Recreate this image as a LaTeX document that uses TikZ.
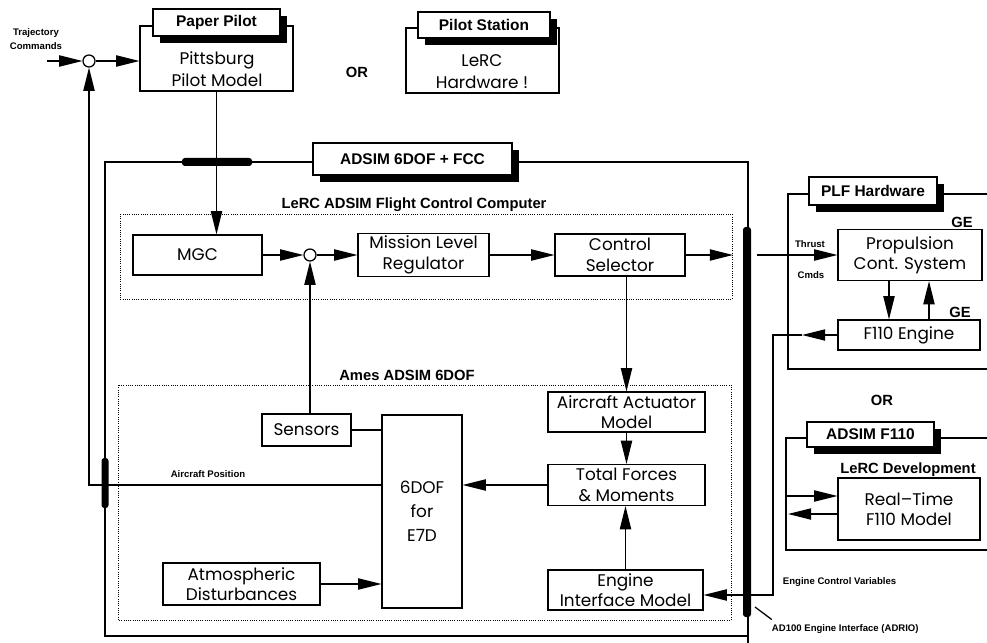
\documentclass[tikz,border=0pt]{standalone}
\usepackage{fontspec}
\setmainfont{Poppins}
\newfontfamily\etich{Liberation Sans}
\usetikzlibrary{arrows.meta,shadows}

\begin{document}
\begin{tikzpicture}[x=0.025cm, y=-0.025cm,
  misura/.style 2 args={minimum width=#1*0.025cm, minimum height=#2*0.025cm},
  blocco/.style={draw, line width=0.9pt, inner sep=0pt, align=center,
    font=\fontsize{12}{14.5}\selectfont},
  testo/.style={align=center, inner sep=0pt, font=\fontsize{12}{15.5}\selectfont},
  linguetta/.style={draw, fill=white, line width=0.9pt, inner sep=0pt,
    font=\etich\bfseries\fontsize{11}{13}\selectfont,
    drop shadow={shadow xshift=0.18cm, shadow yshift=-0.18cm, fill=black, opacity=1}},
  cornice/.style={line width=0.9pt},
  puntini/.style={densely dotted, line width=0.6pt},
  barra/.style={fill=black, inner sep=0pt, rounded corners=2pt},
  somma/.style={circle, draw, line width=0.9pt, inner sep=0pt, minimum size=0.3cm},
  filo/.style={line width=0.9pt},
  freccia/.style={filo, -{Triangle[length=16.5pt, width=8pt]}},
  titolo/.style={font=\etich\bfseries\fontsize{10.5}{12}\selectfont},
  piccolo/.style={align=center, font=\etich\bfseries\fontsize{6.8}{10.5}\selectfont}]

% Sfondo e margini
\path[fill=white] (0,0) rectangle (987,643);
\useasboundingbox (0,0) rectangle (987,643);

% Cornici
\draw[cornice] (105,162) rectangle (748,636);
\draw[cornice] (748,636) -- (748,643);
\draw[cornice] (987,194) -- (788,194) -- (788,369) -- (987,369);
\draw[cornice] (987,438) -- (786,438) -- (786,550) -- (987,550);
\draw[puntini] (120,214) rectangle (732,299);
\draw[puntini] (118,385) rectangle (731,620);

% Pilota
\node[blocco, misura={153}{65}] (paperBox) at (216.5,58.5) {};
\node[testo] (pitt) at (217,69) {Pittsburg\\Pilot Model};
\node[linguetta, misura={127}{27}] (paperTab) at (216.5,22.5) {Paper Pilot};

\node[titolo] (or1) at (357,72) {OR};

\node[blocco, misura={153}{65}] (stationBox) at (482.5,60.5) {};
\node[testo] (lerc) at (482,72) {LeRC\\Hardware !};
\node[linguetta, misura={132}{26}] (stationTab) at (484,25) {Pilot Station};

% Ingresso traiettoria
\node[somma] (sum1) at (89,61) {};
\node[piccolo] (traj) at (36,39) {Trajectory\\Commands};
\coordinate (trajIn) at (47,61);
\draw[freccia] (trajIn) -- (sum1.west);
\draw[freccia] (sum1.east) -- (sum1 -| paperBox.west);

% ADSIM 6DOF + FCC
\node[barra, misura={70}{8}] (busT) at (217,162) {};
\node[linguetta, misura={199}{32}] (adsimTab) at (412.5,159) {ADSIM 6DOF + FCC};
\node[titolo, anchor=base] (fccLbl) at (414,208) {LeRC ADSIM Flight Control Computer};
\node[titolo, anchor=base] (amesLbl) at (407,380) {Ames ADSIM 6DOF};

% Barre di interfaccia
\node[barra, misura={8}{390}] (busR) at (747,422) {};
\node[barra, misura={7}{50}] (busL) at (105,483) {};

% Flight Control Computer
\node[blocco, misura={129}{40}] (mgc) at (197.5,255) {MGC};
\node[somma] (sum2) at (310,255) {};
\node[blocco, misura={131}{43}] (msl) at (423.5,255) {Mission Level\\Regulator};
\node[blocco, misura={130}{42}] (csel) at (620,255) {Control\\Selector};
\coordinate (csOut) at (733,255);

\draw[freccia] (paperBox.south) -- (paperBox.south |- mgc.north);
\draw[freccia] (mgc.east) -- (sum2.west);
\draw[freccia] (sum2.east) -- (msl.west);
\draw[freccia] (msl.east) -- (csel.west);
\draw[freccia] (csel.east) -- (csOut);

% Ames 6DOF
\node[blocco, misura={89}{32}] (sens) at (306.5,430) {Sensors};
\node[blocco, misura={80}{193}, font=\fontsize{12}{17}\selectfont] (dof) at (422,511.5) {6DOF\\for\\E7D};
\node[blocco, misura={157}{40}] (act) at (626.5,412) {Aircraft Actuator\\Model};
\node[blocco, misura={157}{41}] (tfm) at (626.5,485) {Total Forces\\\& Moments};
\node[blocco, misura={155}{40}] (eim) at (625.5,590) {Engine\\Interface Model};
\node[blocco, misura={157}{42}] (atm) at (241.5,584) {Atmospheric\\Disturbances};

\draw[freccia] (csel.south -| act.north) -- (act.north);
\draw[freccia] (act.south) -- (tfm.north);
\draw[freccia] (eim.north) -- (eim.north |- tfm.south);
\draw[freccia] (tfm.west) -- (tfm.west -| dof.east);
\draw[filo] (sens.east) -- (sens.east -| dof.west);
\draw[freccia] (sum2 |- sens.north) -- (sum2.south);
\draw[freccia] (atm.east) -- (atm.east -| dof.west);

% Posizione velivolo
\coordinate (fbCorner) at (89,485);
\draw[freccia] (dof.west |- fbCorner) -- (fbCorner) -- (sum1.south);
\node[piccolo] (acPos) at (208,474) {Aircraft Position};

% PLF Hardware
\node[linguetta, misura={128}{28}] (plfTab) at (873,191) {PLF Hardware};
\node[blocco, misura={144}{51}] (pcs) at (910,255) {Propulsion\\Cont. System};
\node[blocco, misura={142}{30}] (eng) at (909,335) {F110 Engine};
\node[titolo] (ge1) at (962,222) {GE};
\node[titolo] (ge2) at (960,312) {GE};
\node[piccolo] (thrust) at (810,244) {Thrust};
\node[piccolo] (cmds) at (811,275) {Cmds};

\draw[freccia, shorten <=4pt] (busR.east |- pcs.west) -- (pcs.west);
\draw[freccia] ([xshift=-0.525cm]pcs.south) -- ([xshift=-0.525cm]pcs.south |- eng.north);
\draw[freccia] ([xshift=0.5cm]eng.north) -- ([xshift=0.5cm]eng.north |- pcs.south);

% Variabili di controllo motore
\coordinate (engMid) at (802,335);
\coordinate (engDown) at (773,335);
\coordinate (eciCorner) at (773,595);
\draw[freccia] (eng.west) -- (engMid);
\draw[filo] (engMid) -- (engDown) -- (eciCorner) -- (eciCorner -| busR.east);
\draw[freccia] (busR.west |- eciCorner) -- (eciCorner -| eim.east);
\node[piccolo, anchor=west] (ecv) at (778,582) {Engine Control Variables};
\node[piccolo, anchor=west] (adrio) at (767,629) {AD100 Engine Interface (ADRIO)};
\coordinate (adrioTip) at (755,607);
\draw[filo] ([xshift=0.12cm]adrio.north west) -- (adrioTip);

% ADSIM F110
\node[titolo] (or2) at (882,400) {OR};
\node[linguetta, misura={127}{25}] (f110Tab) at (870.5,434.5) {ADSIM F110};
\node[titolo] (lercDev) at (908,470) {LeRC Development};
\node[blocco, misura={142}{62}] (rtm) at (909,509) {Real--Time\\F110 Model};
\coordinate (devIn) at (786,496);
\coordinate (devOut) at (788,514);
\draw[freccia] (devIn) -- (devIn -| rtm.west);
\draw[freccia] (rtm.west |- devOut) -- (devOut);

\end{tikzpicture}
\end{document}
